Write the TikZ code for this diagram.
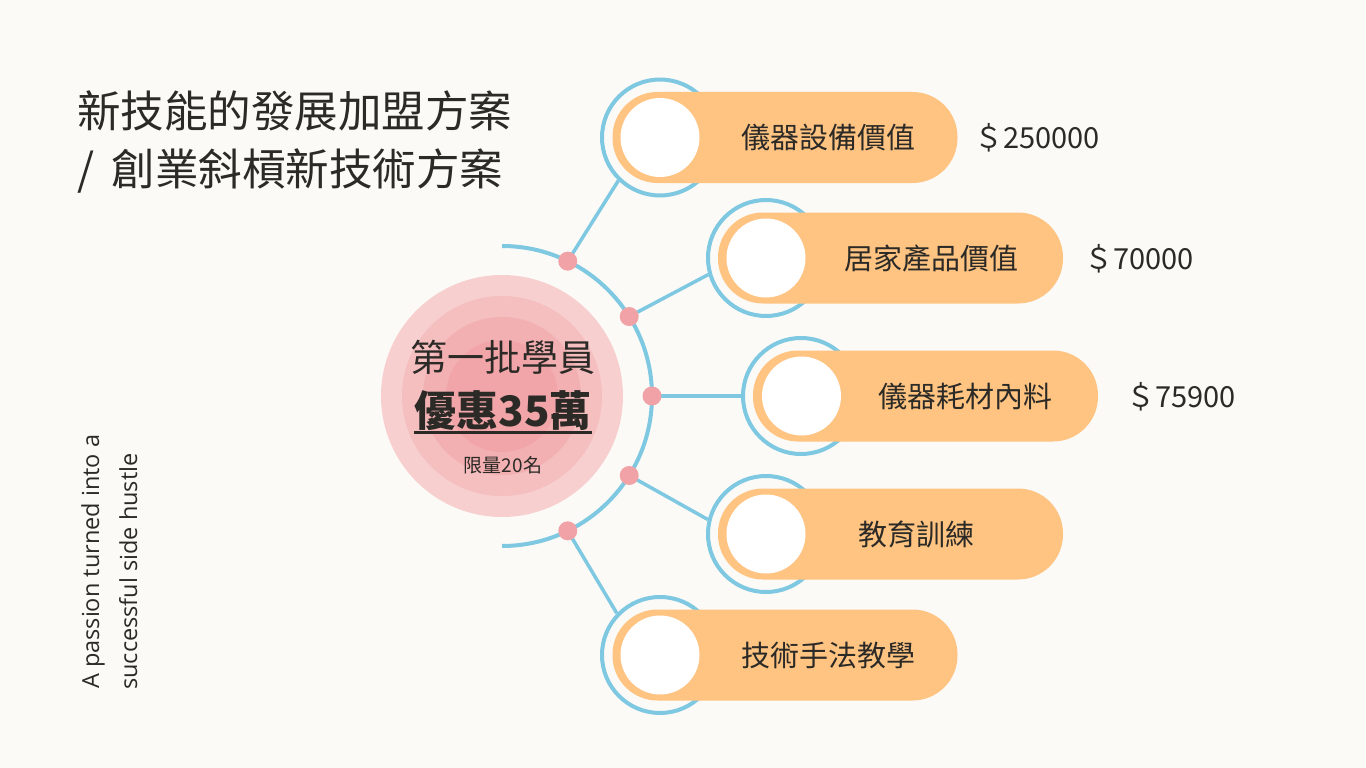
\documentclass[tikz,border=0pt]{standalone}
\usepackage{fontspec}
\usetikzlibrary{calc}
\setmainfont{Noto Sans CJK TC}
\newfontfamily\latinfont{Open Sans}
\definecolor{bgc}{HTML}{FBFAF6}
\definecolor{ink}{HTML}{2B2A26}
\definecolor{skyb}{HTML}{7FC8E2}
\definecolor{pillc}{HTML}{FFC382}
\definecolor{dotc}{HTML}{F0A2A7}
\definecolor{pk1}{HTML}{F7CFCF}
\definecolor{pk2}{HTML}{F5BEBF}
\definecolor{pk3}{HTML}{F3B0B2}
\definecolor{pk4}{HTML}{F1A5A9}
\tikzset{
  ring/.style={circle, draw=skyb, line width=4pt, minimum size=116pt, inner sep=0pt},
  pill/.style={rectangle, rounded corners=45pt, fill=pillc, minimum width=345pt, minimum height=91pt, inner sep=0pt},
  hole/.style={circle, fill=white, minimum size=79pt, inner sep=0pt},
  pdot/.style={circle, fill=dotc, minimum size=19pt, inner sep=0pt},
  link/.style={draw=skyb, line width=3.5pt},
  label/.style={text=ink, inner sep=0pt, font=\fontsize{29}{34}\selectfont},
}
\begin{document}
\begin{tikzpicture}[x=1pt,y=-1pt]
\useasboundingbox (0,0) rectangle (1366,768);
\fill[bgc] (0,0) rectangle (1366,768);

% title
\node[anchor=base west, text=ink, inner sep=0pt, font=\fontsize{43.5}{50}\selectfont] (t1) at (77,128) {新技能的發展加盟方案};
\node[anchor=base west, text=ink, inner sep=0pt, font=\fontsize{43.5}{50}\selectfont] (t2) at (77,185) {/ \hspace{8pt}創業斜槓新技術方案};

% vertical text
\node[anchor=base west, rotate=90, text=ink, inner sep=0pt, font=\latinfont\fontsize{23.5}{28}\selectfont] (v1) at (99,689) {A passion turned into a};
\node[anchor=base west, rotate=90, text=ink, inner sep=0pt, font=\latinfont\fontsize{23.5}{28}\selectfont] (v2) at (137,690) {successful side hustle};

% central circles
\coordinate (c) at (502,396);
\fill[pk1] (c) circle[radius=121];
\fill[pk2] (c) circle[radius=100];
\fill[pk3] (c) circle[radius=79];
\fill[pk4] (c) circle[radius=56];

% arc
\draw[skyb, line width=4pt] (502,246) arc[start angle=-90, end angle=90, radius=150];

% rows: rings
\node[ring] (r1) at (660,137.5) {};
\node[ring] (r2) at (766,258) {};
\node[ring] (r3) at (801,396) {};
\node[ring] (r4) at (766,534) {};
\node[ring] (r5) at (660,655) {};

% dots
\coordinate (e1) at ($(c)+(-64:150)$);
\coordinate (e2) at ($(c)+(-32:150)$);
\coordinate (e3) at ($(c)+(0:150)$);
\coordinate (e4) at ($(c)+(32:150)$);
\coordinate (e5) at ($(c)+(64:150)$);

% links
\draw[link] (e1) -- (r1.226);
\draw[link] (e2) -- (r2.196);
\draw[link] (e3) -- (r3.180);
\draw[link] (e4) -- (r4.166);
\draw[link] (e5) -- (r5.136);
\node[pdot] (d1) at (e1) {};
\node[pdot] (d2) at (e2) {};
\node[pdot] (d3) at (e3) {};
\node[pdot] (d4) at (e4) {};
\node[pdot] (d5) at (e5) {};

% pills
\node[pill] (p1) at (785,137.5) {};
\node[pill] (p2) at (890.5,258) {};
\node[pill] (p3) at (925.5,396) {};
\node[pill] (p4) at (890.5,534) {};
\node[pill] (p5) at (785,655) {};

\node[hole] (h1) at (660,137.5) {};
\node[hole] (h2) at (766,258) {};
\node[hole] (h3) at (801.5,396) {};
\node[hole] (h4) at (766,534) {};
\node[hole] (h5) at (660,655) {};

% labels
\node[label, anchor=base] (l1) at (828,148.5) {儀器設備價值};
\node[label, anchor=base] (l2) at (931,269) {居家產品價值};
\node[label, anchor=base] (l3) at (965,407) {儀器耗材內料};
\node[label, anchor=base] (l4) at (916,545) {教育訓練};
\node[label, anchor=base] (l5) at (828,666) {技術手法教學};

% prices
\node[label, anchor=base west] (m1) at (974,148.5) {＄250000};
\node[label, anchor=base west] (m2) at (1084,269) {＄70000};
\node[label, anchor=base west] (m3) at (1126,407) {＄75900};

% centre text
\node[anchor=base, text=ink, inner sep=0pt, font=\fontsize{37}{40}\selectfont] (k1) at (503,371) {第一批學員};
\node[anchor=base, text=ink, inner sep=0pt, font=\bfseries\fontsize{42}{46}\selectfont] (k2) at (503,426) {優惠35萬};
\draw[ink, line width=2.5pt] ($(k2.base west)+(0,6.5)$) -- ($(k2.base east)+(0,6.5)$);
\node[anchor=base, text=ink, inner sep=0pt, font=\fontsize{19}{22}\selectfont] (k3) at (503,472) {限量20名};
\end{tikzpicture}
\end{document}
